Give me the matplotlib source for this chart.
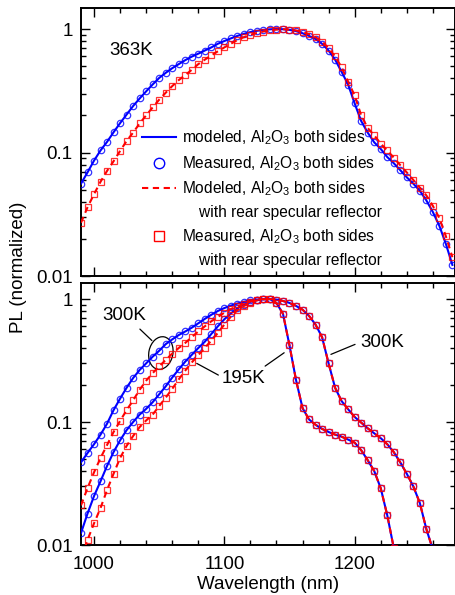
import numpy as np
import matplotlib
matplotlib.use("Agg")
import matplotlib.pyplot as plt
from matplotlib.lines import Line2D
from matplotlib.patches import Ellipse
from matplotlib.ticker import MultipleLocator, LogLocator, FuncFormatter, NullFormatter
from matplotlib.transforms import ScaledTranslation

plt.rcParams["font.family"] = ["Liberation Sans", "DejaVu Sans"]
plt.rcParams["mathtext.fontset"] = "custom"
plt.rcParams["mathtext.rm"] = "Liberation Sans"
plt.rcParams["mathtext.it"] = "Liberation Sans:italic"
plt.rcParams["mathtext.bf"] = "Liberation Sans:bold"
plt.rcParams["mathtext.default"] = "regular"

BLUE = "#0000ff"
RED = "#ff0000"

# --- data (5 nm steps) ------------------------------------------------------
wl = [990, 995, 1000, 1005, 1010, 1015, 1020, 1025, 1030, 1035,
      1040, 1045, 1050, 1055, 1060, 1065, 1070, 1075, 1080, 1085,
      1090, 1095, 1100, 1105, 1110, 1115, 1120, 1125, 1130, 1135,
      1140, 1145, 1150, 1155, 1160, 1165, 1170, 1175, 1180, 1185,
      1190, 1195, 1200, 1205, 1210, 1215, 1220, 1225, 1230, 1235,
      1240, 1245, 1250, 1255, 1260, 1265, 1270, 1275]

# 363 K, Al2O3 both sides
pl_363_both = [0.056, 0.069, 0.086, 0.104, 0.122, 0.146, 0.173, 0.203, 0.238, 0.274,
               0.313, 0.356, 0.402, 0.442, 0.482, 0.52, 0.56, 0.598, 0.632, 0.67,
               0.71, 0.76, 0.80, 0.84, 0.88, 0.915, 0.945, 0.968, 0.985, 0.995,
               1.0, 0.997, 0.985, 0.963, 0.925, 0.88, 0.83, 0.76, 0.67, 0.565,
               0.45, 0.355, 0.25, 0.18, 0.145, 0.121, 0.107, 0.092, 0.082, 0.072,
               0.063, 0.056, 0.049, 0.041, 0.033, 0.0255, 0.0182, 0.0123]
# 363 K, Al2O3 both sides + rear specular reflector
pl_363_refl = [0.027, 0.036, 0.046, 0.058, 0.071, 0.085, 0.103, 0.124, 0.145, 0.172,
               0.20, 0.232, 0.268, 0.305, 0.345, 0.386, 0.423, 0.468, 0.52, 0.565,
               0.612, 0.66, 0.71, 0.76, 0.815, 0.86, 0.90, 0.93, 0.955, 0.975,
               0.99, 0.997, 0.99, 0.975, 0.945, 0.91, 0.86, 0.79, 0.70, 0.60,
               0.49, 0.375, 0.29, 0.2, 0.158, 0.138, 0.118, 0.104, 0.091, 0.079,
               0.069, 0.06, 0.052, 0.045, 0.037, 0.0295, 0.021, 0.0142]

# rising edge 990-1130 nm, then common tail from 1135 nm
rise_300_both = [0.047, 0.056, 0.066, 0.079, 0.097, 0.125, 0.155, 0.19, 0.228, 0.265,
                 0.30, 0.34, 0.38, 0.43, 0.47, 0.51, 0.545, 0.585, 0.635, 0.69,
                 0.745, 0.80, 0.845, 0.885, 0.92, 0.95, 0.975, 0.99, 1.0]
rise_300_refl = [0.021, 0.029, 0.039, 0.051, 0.065, 0.083, 0.102, 0.125, 0.15, 0.183,
                 0.217, 0.25, 0.283, 0.32, 0.36, 0.40, 0.44, 0.49, 0.545, 0.60,
                 0.66, 0.715, 0.775, 0.83, 0.875, 0.915, 0.955, 0.985, 1.0]
tail_300 = [1.0, 0.99, 0.965, 0.93, 0.88, 0.82, 0.73, 0.62, 0.49, 0.30,
            0.19, 0.148, 0.127, 0.11, 0.099, 0.089, 0.081, 0.074, 0.066, 0.057,
            0.047, 0.038, 0.030, 0.022, 0.0135, 0.0092, 0.006]

rise_195_both = [0.0125, 0.018, 0.025, 0.033, 0.044, 0.057, 0.071, 0.086, 0.10, 0.115,
                 0.128, 0.145, 0.168, 0.195, 0.23, 0.268, 0.31, 0.352, 0.40, 0.45,
                 0.52, 0.60, 0.685, 0.765, 0.84, 0.90, 0.95, 0.98, 0.995]
rise_195_refl = [0.0078, 0.011, 0.015, 0.020, 0.028, 0.038, 0.051, 0.064, 0.077, 0.091,
                 0.103, 0.115, 0.135, 0.158, 0.186, 0.222, 0.262, 0.305, 0.35, 0.40,
                 0.46, 0.53, 0.62, 0.72, 0.81, 0.88, 0.935, 0.975, 0.995]
tail_195 = [1.0, 0.93, 0.76, 0.42, 0.22, 0.13, 0.105, 0.095, 0.088, 0.083,
            0.079, 0.076, 0.072, 0.068, 0.059, 0.049, 0.040, 0.029, 0.0175, 0.0095,
            0.005]

bottom_sets = [
    (rise_300_both + tail_300, rise_300_refl + tail_300),
    (rise_195_both + tail_195, rise_195_refl + tail_195),
]

legend_labels = ["modeled, Al$_2$O$_3$ both sides",
                 "Measured, Al$_2$O$_3$ both sides",
                 "Modeled, Al$_2$O$_3$ both sides",
                 "    with rear specular reflector",
                 "Measured, Al$_2$O$_3$ both sides",
                 "    with rear specular reflector"]


def draw_pair(ax, both, refl):
    x1 = wl[:len(both)]
    x2 = wl[:len(refl)]
    ax.plot(x1, both, color=BLUE, lw=1.5, zorder=3)
    ax.plot(x1, both, ls="none", marker="o", ms=4.6, mfc="none", mec=BLUE,
            mew=0.9, alpha=0.8, zorder=4)
    ax.plot(x2, refl, color=RED, lw=1.5, dashes=(3, 2.2), zorder=5)
    ax.plot(x2, refl, ls="none", marker="s", ms=4.1, mfc="none", mec=RED,
            mew=0.9, alpha=0.8, zorder=6)


def style_axis(ax, ytop):
    ax.set_yscale("log")
    ax.set_xlim(990, 1277)
    ax.set_ylim(0.01, ytop)
    ax.xaxis.set_major_locator(MultipleLocator(100))
    ax.xaxis.set_minor_locator(MultipleLocator(20))
    ax.yaxis.set_major_locator(LogLocator(base=10, numticks=10))
    ax.yaxis.set_minor_locator(LogLocator(base=10, subs=np.arange(2, 10), numticks=10))
    ax.yaxis.set_major_formatter(FuncFormatter(lambda v, p: f"{v:g}"))
    ax.yaxis.set_minor_formatter(NullFormatter())
    ax.tick_params(which="both", direction="in", top=True, right=True,
                   labelsize=13.5, width=1.0)
    ax.tick_params(which="major", length=6.5)
    ax.tick_params(which="minor", length=3.5)
    ax.tick_params(axis="y", pad=6)
    ax.tick_params(axis="x", pad=8)
    for s in ax.spines.values():
        s.set_linewidth(1.4)


fig = plt.figure(figsize=(4.56, 5.95), dpi=100)
ax1 = fig.add_axes([0.1776, 0.5361, 0.8202, 0.4504])
ax2 = fig.add_axes([0.1776, 0.0840, 0.8202, 0.4403])

# ─── top panel: 363 K ───────────────────────────────────────────────────────
draw_pair(ax1, pl_363_both, pl_363_refl)
style_axis(ax1, 1.48)
ax1.tick_params(labelbottom=False)
ax1.text(1028.8, 0.666, "363K", ha="center", va="center", fontsize=13.5)

handles = [
    Line2D([], [], color=BLUE, lw=1.5),
    Line2D([], [], ls="none", marker="o", ms=7.5, mfc="none", mec=BLUE, mew=1.0),
    Line2D([], [], color=RED, lw=1.5, dashes=(3, 2.2)),
    Line2D([], [], color="none"),
    Line2D([], [], ls="none", marker="s", ms=7, mfc="none", mec=RED, mew=1.0),
    Line2D([], [], color="none"),
]
ax1.legend(handles, legend_labels, loc="upper left", bbox_to_anchor=(0.163, 0.551),
           frameon=False, fontsize=11.2, handlelength=2.2, handletextpad=0.35,
           labelspacing=0.45, borderpad=0, borderaxespad=0)

# ─── bottom panel: 300 K and 195 K ──────────────────────────────────────────
for both, refl in bottom_sets:
    draw_pair(ax2, both, refl)
style_axis(ax2, 1.35)
ax2.set_xlabel("Wavelength (nm)", fontsize=13.5, labelpad=2)

line_kw = dict(arrowstyle="-", color="k", lw=0.9, shrinkA=0, shrinkB=0)
ax2.text(1023.6, 0.74, "300K", ha="center", va="center", fontsize=13.5)
ax2.annotate("", xy=(1044.4, 0.46), xytext=(1035.2, 0.57), arrowprops=line_kw)
ell = Ellipse((0, 0), width=0.24, height=0.33, angle=-12, fill=False,
              ec="k", lw=0.9,
              transform=fig.dpi_scale_trans + ScaledTranslation(1051.3, 0.364, ax2.transData))
ax2.add_artist(ell)

ax2.text(1114.6, 0.225, "195K", ha="center", va="center", fontsize=13.5)
ax2.annotate("", xy=(1078.8, 0.30), xytext=(1095.4, 0.241), arrowprops=line_kw)
ax2.annotate("", xy=(1145.9, 0.366), xytext=(1131.3, 0.285), arrowprops=line_kw)

ax2.text(1221.5, 0.445, "300K", ha="center", va="center", fontsize=13.5)
ax2.annotate("", xy=(1181.8, 0.355), xytext=(1200.3, 0.428), arrowprops=line_kw)

fig.text(0.04, 0.55, "PL (normalized)", rotation=90, ha="center", va="center",
         fontsize=13.5)

fig.savefig("out.png", dpi=100)
